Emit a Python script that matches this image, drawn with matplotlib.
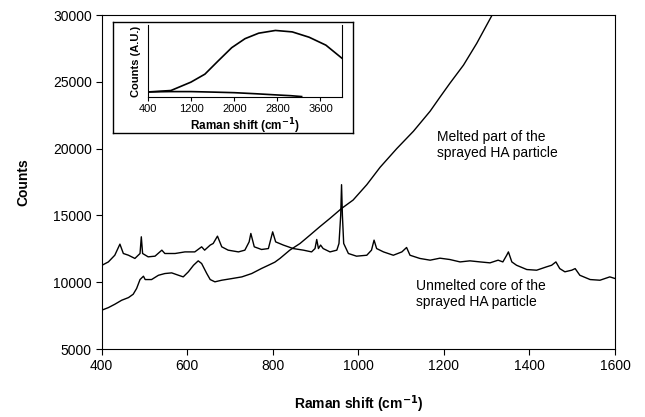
import matplotlib
matplotlib.use("Agg")
import matplotlib.pyplot as plt

plt.rcParams['font.family'] = ['Liberation Sans', 'DejaVu Sans']

# Unmelted core of the sprayed HA particle
core_x = [400, 416, 431, 443, 451, 463, 478, 490, 493, 496, 509, 525, 541, 548, 572, 595, 618, 634, 641,
          654, 661, 671, 681, 696, 720, 735, 745, 749, 757, 774, 790, 800, 807, 825, 848, 872, 891, 899,
          903, 907, 912, 918, 934, 950, 955, 959, 961, 963, 966, 977, 996, 1020, 1031, 1037, 1043, 1059,
          1082, 1102, 1113, 1121, 1144, 1168, 1191, 1214, 1238, 1261, 1285, 1308, 1327, 1338, 1347, 1351,
          1359, 1370, 1394, 1417, 1440, 1452, 1462, 1471, 1483, 1499, 1507, 1518, 1542, 1565, 1588, 1600]
core_y = [11250, 11520, 12020, 12850, 12150, 12020, 11780, 12150, 13400, 12150, 11900, 11950, 12400, 12150,
          12150, 12270, 12270, 12650, 12400, 12780, 12900, 13450, 12650, 12400, 12270, 12400, 13020, 13650,
          12650, 12450, 12520, 13770, 13020, 12780, 12520, 12400, 12270, 12520, 13200, 12520, 12780, 12520,
          12270, 12400, 12900, 15000, 17300, 15000, 12900, 12150, 11950, 12020, 12400, 13150, 12520, 12270,
          12020, 12270, 12600, 12020, 11780, 11650, 11800, 11700, 11520, 11600, 11520, 11450, 11650, 11520,
          12020, 12270, 11520, 11270, 10950, 10900, 11150, 11270, 11520, 11020, 10780, 10900, 11020, 10520,
          10200, 10150, 10400, 10280]

# Melted part of the sprayed HA particle
melt_x = [400, 416, 431, 447, 463, 474, 482, 490, 498, 502, 517, 533, 548, 564, 580, 591, 603, 615, 626,
          634, 646, 654, 665, 681, 704, 728, 751, 774, 790, 805, 817, 840, 864, 887, 910, 934, 961, 988,
          1020, 1051, 1090, 1129, 1168, 1191, 1214, 1246, 1277, 1313, 1325]
melt_y = [7900, 8100, 8350, 8650, 8850, 9100, 9530, 10200, 10450, 10200, 10200, 10520, 10650, 10700, 10520,
          10400, 10780, 11270, 11600, 11400, 10650, 10200, 10030, 10150, 10270, 10400, 10650, 11030, 11270,
          11500, 11780, 12400, 12900, 13520, 14150, 14780, 15520, 16150, 17300, 18600, 20000, 21300, 22800,
          23850, 24880, 26250, 27880, 30000, 30700]

# Inset (full range, arbitrary units)
ins_melt_x = [400, 825, 1195, 1455, 1700, 1953, 2200, 2453, 2764, 3076, 3389, 3700, 4000]
ins_melt_y = [7, 9, 20.6, 31.7, 50, 68.5, 81, 88.6, 92.4, 90.4, 83, 72, 53.7]
ins_core_x = [400, 800, 1200, 1600, 2000, 2400, 2800, 3050, 3250]
ins_core_y = [7, 7.5, 7.5, 6.8, 6, 4.5, 2.8, 1.8, 0.6]

main_xticks = [400, 600, 800, 1000, 1200, 1400, 1600]
main_yticks = [5000, 10000, 15000, 20000, 25000, 30000]
ins_xticks = [400, 1200, 2000, 2800, 3600]

fig = plt.figure(figsize=(6.45, 4.17), dpi=100)
ax = fig.add_axes([0.1574, 0.163, 0.796, 0.801])
ax.plot(core_x, core_y, color='black', lw=1.0)
ax.plot(melt_x, melt_y, color='black', lw=1.0)
ax.set_xlim(400, 1600)
ax.set_ylim(5000, 30000)
ax.set_xticks(main_xticks)
ax.set_yticks(main_yticks)
ax.tick_params(direction='out', length=4, width=0.8, labelsize=10, pad=3)
for s in ax.spines.values():
    s.set_linewidth(0.8)
ax.set_xlabel('Raman shift (cm$^{\\mathbf{-1}}$)', fontsize=10, fontweight='bold', labelpad=15)
ax.set_ylabel('Counts', fontsize=10, fontweight='bold', labelpad=16)

ax.text(1184, 20250, 'Melted part of the\nsprayed HA particle', fontsize=10,
        va='center', ha='left', linespacing=1.2)
ax.text(1135, 9100, 'Unmelted core of the\nsprayed HA particle', fontsize=10,
        va='center', ha='left', linespacing=1.2)

# inset box
box = fig.add_axes([0.1752, 0.681, 0.3721, 0.2662])
box.set_xticks([])
box.set_yticks([])
box.set_facecolor('white')
for s in box.spines.values():
    s.set_linewidth(1.0)

ins = fig.add_axes([0.2295, 0.7674, 0.3008, 0.1727])
ins.set_facecolor('none')
ins.plot(ins_melt_x, ins_melt_y, color='black', lw=1.2)
ins.plot(ins_core_x, ins_core_y, color='black', lw=1.2)
ins.set_xlim(400, 4000)
ins.set_ylim(0, 100)
ins.set_xticks(ins_xticks)
ins.set_yticks([])
ins.spines['top'].set_visible(False)
for s in ['left', 'right', 'bottom']:
    ins.spines[s].set_linewidth(0.8)
ins.tick_params(direction='out', length=3, width=0.8, labelsize=8, pad=2)
ins.set_xlabel('Raman shift (cm$^{\\mathbf{-1}}$)', fontsize=8.5, fontweight='bold', labelpad=2)
ins.set_ylabel('Counts (A.U.)', fontsize=8, fontweight='bold', labelpad=5)

fig.savefig('out.png', dpi=100)
